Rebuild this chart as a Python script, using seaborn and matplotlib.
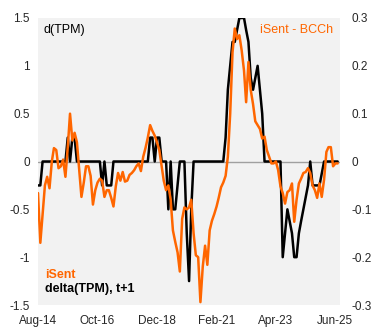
import matplotlib
matplotlib.use("Agg")
import matplotlib.pyplot as plt
import matplotlib.dates as mdates
import seaborn as sns
import pandas as pd

# monthly dates, Aug-2014 .. Jul-2025
dates = pd.date_range("2014-08-01", periods=132, freq="MS")

# delta(TPM), t+1  (left axis)
delta_tpm = [
    -0.25, -0.25, 0, 0, 0, 0, 0, 0, 0, 0,
    0, 0, 0, 0.25, 0, 0.25, 0.25, 0, 0, 0,
    0, 0, 0, 0, 0, 0, 0, 0, -0.25, 0,
    -0.25, -0.25, -0.25, 0, 0, 0, 0, 0, 0, 0,
    0, 0, 0, 0, 0, 0, 0, 0, 0, 0.25,
    0.25, 0, 0.25, 0.25, 0, 0, 0, -0.5, 0, -0.5,
    -0.5, -0.25, 0, 0, 0, -0.75, -1.25, -0.5, 0, 0,
    0, 0, 0, 0, 0, 0, 0, 0, 0, 0,
    0, 0, 0.25, 0.75, 1.0, 1.25, 1.25, 1.375, 1.5, 1.5,
    1.5, 1.375, 1.25, 0.875, 0.75, 0.875, 1.0, 0.75, 0.5, 0,
    0, 0, 0, 0, 0, 0, 0, -1.0, -0.75, -0.5,
    -0.625, -0.75, -1.0, -1.0, -0.75, -0.625, -0.5, -0.375, -0.25, 0,
    -0.25, -0.25, -0.25, -0.25, -0.125, 0, 0, 0, 0, 0,
    0, 0,
]

# iSent (right axis)
isent = [
    -0.066, -0.17, -0.11, -0.05, -0.032, -0.056, 0.0, 0.028, 0.024, -0.014,
    -0.01, 0.004, -0.032, 0.03, 0.1, 0.044, 0.06, 0.04, -0.02, -0.074,
    -0.044, -0.01, -0.01, -0.03, -0.09, -0.06, -0.044, -0.036, -0.04, -0.074,
    -0.06, -0.06, -0.076, -0.094, -0.052, -0.024, -0.04, -0.022, -0.042, -0.04,
    -0.028, -0.024, -0.018, -0.01, -0.004, -0.02, 0.01, 0.028, 0.05, 0.076,
    0.064, 0.054, 0.04, 0.024, -0.01, -0.04, -0.06, -0.05, -0.08, -0.144,
    -0.168, -0.19, -0.23, -0.12, -0.096, -0.1, -0.096, -0.08, -0.15, -0.196,
    -0.2, -0.294, -0.22, -0.176, -0.216, -0.144, -0.124, -0.11, -0.094, -0.076,
    -0.054, -0.044, -0.03, 0.01, 0.1, 0.228, 0.278, 0.256, 0.264, 0.232,
    0.19, 0.124, 0.208, 0.15, 0.12, 0.084, 0.076, 0.068, 0.048, 0.052,
    0.024, 0.01, -0.004, -0.004, 0.0, -0.018, -0.052, -0.066, -0.088, -0.064,
    -0.06, -0.046, -0.126, -0.08, -0.046, -0.036, -0.024, -0.022, -0.014, -0.024,
    -0.05, -0.06, -0.076, -0.046, -0.074, -0.038, 0.02, 0.03, 0.03, -0.01,
    -0.004, -0.004,
]

left_ticks = [-1.5, -1, -0.5, 0, 0.5, 1, 1.5]
left_labels = ["-1.5", "-1", "-0.5", "0", "0.5", "1", "1.5"]
right_ticks = [-0.3, -0.2, -0.1, 0, 0.1, 0.2, 0.3]
right_labels = ["-0.3", "-0.2", "-0.1", "0", "0.1", "0.2", "0.3"]
x_ticks = ["2014-08-01", "2016-10-01", "2018-12-01", "2021-02-01", "2023-04-01", "2025-06-01"]

sns.set_style("white")
plt.rcParams["font.family"] = ["Liberation Sans", "DejaVu Sans"]
plt.rcParams["font.size"] = 8.5

ORANGE = "#FF6600"

df = pd.DataFrame({"date": dates, "tpm": delta_tpm, "isent": isent})

fig = plt.figure(figsize=(3.75, 3.33), dpi=100)
ax = fig.add_axes([38 / 375, 1 - 305 / 333, 302 / 375, 287 / 333])
ax.set_facecolor("#F2F2F2")
ax.axhline(0, color="#A0A0A0", lw=1.0, zorder=1)
sns.lineplot(data=df, x="date", y="tpm", ax=ax, color="black", lw=1.8, zorder=3)

ax2 = ax.twinx()
sns.lineplot(data=df, x="date", y="isent", ax=ax2, color=ORANGE, lw=1.8, zorder=3)

ax.set_ylim(-1.5, 1.5)
ax2.set_ylim(-0.3, 0.3)
ax.set_xlim(pd.Timestamp("2014-08-01"), pd.Timestamp("2025-08-01"))

ax.set_yticks(left_ticks)
ax.set_yticklabels(left_labels)
ax2.set_yticks(right_ticks)
ax2.set_yticklabels(right_labels)
ax.set_xticks([pd.Timestamp(t) for t in x_ticks])
ax.xaxis.set_major_formatter(mdates.DateFormatter("%b-%y"))

for a in (ax, ax2):
    for s in a.spines.values():
        s.set_visible(False)
    a.set_xlabel("")
    a.set_ylabel("")
    a.grid(False)
ax.tick_params(axis="y", length=0, pad=6, labelsize=8.5)
ax.tick_params(axis="x", length=0, pad=7, labelsize=8.5)
ax2.tick_params(axis="y", length=0, pad=8, labelsize=8.5)

ax.text(0.018, 0.958, "d(TPM)", transform=ax.transAxes, ha="left", va="center",
        fontsize=9, color="black")
ax2.text(0.977, 0.958, "iSent - BCCh", transform=ax2.transAxes, ha="right", va="center",
         fontsize=9, color=ORANGE)
ax2.text(0.023, 0.105, "iSent", transform=ax2.transAxes, ha="left", va="center",
         fontsize=9, color=ORANGE, fontweight="bold")
ax2.text(0.023, 0.056, "delta(TPM), t+1", transform=ax2.transAxes, ha="left", va="center",
         fontsize=9, color="black", fontweight="bold")

fig.savefig("out.png", dpi=100)
